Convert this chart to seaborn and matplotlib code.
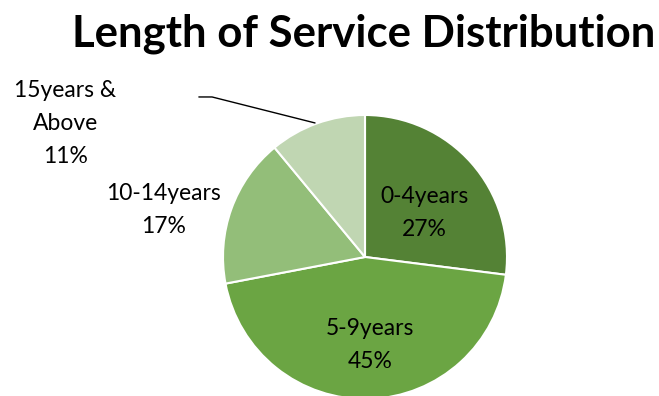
import matplotlib
matplotlib.use("Agg")
import matplotlib.pyplot as plt
import seaborn as sns

categories = ["0-4years", "5-9years", "10-14years", "15years &\nAbove"]
values = [27, 45, 17, 11]
colors = ["#548235", "#6BA543", "#93BE79", "#C0D6B2"]

sns.set_theme(style="white")
plt.rcParams["font.family"] = ["Lato", "DejaVu Sans"]
plt.rcParams["text.color"] = "black"
palette = sns.color_palette(colors)

W, H = 659, 396
fig = plt.figure(figsize=(W / 100, H / 100), dpi=100)
cx, cy, r = 365, 257, 142
ax = fig.add_axes([(cx - r) / W, (H - cy - r) / H, 2 * r / W, 2 * r / H])

wedges, _ = ax.pie(values, colors=palette, startangle=90, counterclock=False,
                   wedgeprops=dict(edgecolor="white", linewidth=1.5), radius=1)
ax.set_xlim(-1, 1)
ax.set_ylim(-1, 1)
ax.set_aspect("auto")
ax.axis("off")

label_pos = [(0.42, 0.31), (0.035, -0.62), (-1.42, 0.33), (-2.11, 0.94)]
for cat, v, (x, y) in zip(categories, values, label_pos):
    ax.text(x, y, f"{cat}\n{v}%", ha="center", va="center", fontsize=16.5,
            color="black", linespacing=1.72, clip_on=False)

# leader line for the small slice
ax.plot([-1.17, -1.077, -0.352], [1.127, 1.127, 0.944], color="black",
        linewidth=1, clip_on=False)

fig.text(364 / W, 1 - 34 / H, "Length of Service Distribution", ha="center",
         va="center", fontsize=31.5, fontweight="bold", color="black")

fig.savefig("out.png", dpi=100)
